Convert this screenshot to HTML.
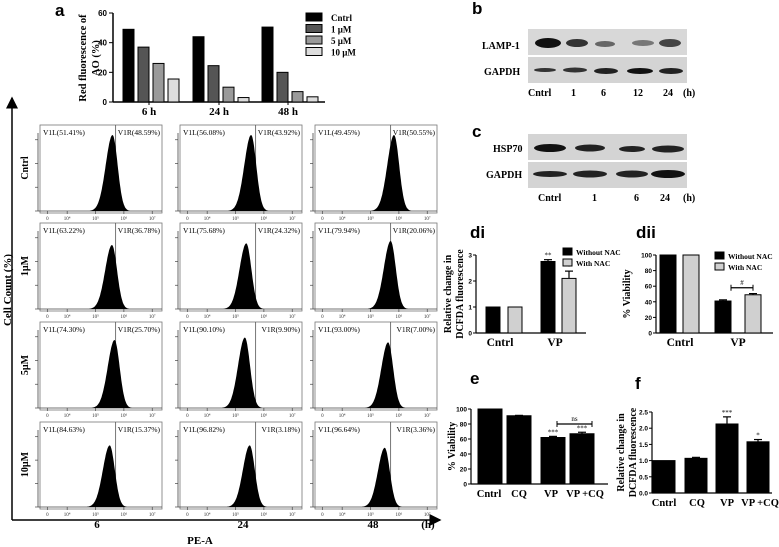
<!DOCTYPE html>
<html><head><meta charset="utf-8"><style>
body{margin:0;background:#fff}
svg{display:block;font-family:"Liberation Serif",serif;font-weight:bold}
.ps{font-family:"Liberation Sans",sans-serif;font-weight:bold}
</style></head><body>
<svg id="fig" width="779" height="547" viewBox="0 0 779 547">
<defs><marker id="arr" markerWidth="8" markerHeight="8" refX="7" refY="4" orient="auto"><path d="M0,0L8,4L0,8Z" fill="#000"/></marker></defs>
<text class="ps" x="55" y="16" font-size="17">a</text>
<text class="ps" x="472" y="14" font-size="17">b</text>
<text class="ps" x="472" y="137" font-size="17">c</text>
<text class="ps" x="470" y="238" font-size="17">di</text>
<text class="ps" x="636" y="238" font-size="17">dii</text>
<text class="ps" x="470" y="384" font-size="17">e</text>
<text class="ps" x="635" y="389" font-size="17">f</text>

<g>
<rect x="528" y="29" width="159" height="26" fill="#d8d8d8"/>
<rect x="528" y="57" width="159" height="26" fill="#d4d4d4"/>
<ellipse cx="548" cy="43" rx="13" ry="5" fill="#111"/><ellipse cx="577" cy="43" rx="11" ry="4" fill="#333"/>
<ellipse cx="605" cy="44" rx="10" ry="3" fill="#666"/><ellipse cx="643" cy="43" rx="11" ry="3" fill="#777"/><ellipse cx="670" cy="43" rx="11" ry="4" fill="#444"/>
<ellipse cx="545" cy="70" rx="11" ry="2" fill="#333"/><ellipse cx="575" cy="70" rx="12" ry="2.5" fill="#333"/><ellipse cx="606" cy="71" rx="12" ry="3" fill="#222"/><ellipse cx="640" cy="71" rx="13" ry="3" fill="#111"/><ellipse cx="671" cy="71" rx="12" ry="3" fill="#222"/>
<text x="482" y="49" font-size="10">LAMP-1</text><text x="484" y="75" font-size="10">GAPDH</text>
<text y="96" font-size="10"><tspan x="528">Cntrl</tspan><tspan x="571">1</tspan><tspan x="601">6</tspan><tspan x="633">12</tspan><tspan x="663">24</tspan><tspan x="683">(h)</tspan></text>
</g>
<g>
<rect x="528" y="134" width="159" height="26" fill="#d4d4d4"/>
<rect x="528" y="162" width="159" height="26" fill="#d4d4d4"/>
<ellipse cx="550" cy="148" rx="16" ry="4" fill="#111"/><ellipse cx="590" cy="148" rx="15" ry="3.5" fill="#222"/><ellipse cx="632" cy="149" rx="13" ry="3" fill="#222"/><ellipse cx="668" cy="149" rx="16" ry="3.5" fill="#222"/>
<ellipse cx="550" cy="174" rx="17" ry="3" fill="#222"/><ellipse cx="590" cy="174" rx="17" ry="3.5" fill="#222"/><ellipse cx="632" cy="174" rx="16" ry="3.5" fill="#222"/><ellipse cx="668" cy="174" rx="17" ry="4" fill="#111"/>
<text x="493" y="152" font-size="10">HSP70</text><text x="486" y="178" font-size="10">GAPDH</text>
<text y="201" font-size="10"><tspan x="538">Cntrl</tspan><tspan x="592">1</tspan><tspan x="634">6</tspan><tspan x="660">24</tspan><tspan x="683">(h)</tspan></text>
</g>

<line x1="12" y1="520" x2="12" y2="98" stroke="#000" stroke-width="1.5" marker-end="url(#arr)"/>
<line x1="12" y1="520" x2="440" y2="520" stroke="#000" stroke-width="1.5" marker-end="url(#arr)"/>
<text transform="translate(11,290) rotate(-90)" text-anchor="middle" font-size="11">Cell Count (%)</text>
<text x="200" y="544" text-anchor="middle" font-size="11">PE-A</text>
<g id="flow"></g>
<g id="chartA"></g>
<g id="bars"></g>
</svg>
<script>
const NS='http://www.w3.org/2000/svg';
function mk(p,t,a,txt){const e=document.createElementNS(NS,t);for(const k in a)e.setAttribute(k,a[k]);if(txt!==undefined)e.textContent=txt;p.appendChild(e);return e;}
const aGroups=['6 h','24 h','48 h'];
const aSeries=['Cntrl','1 \u00b5M','5 \u00b5M','10 \u00b5M'];
const aColors=['#000','#555','#9a9a9a','#ddd'];
const aCntrl=[49,44,50.5];
const a1uM=[37,24.5,20];
const a5uM=[26,10,7];
const a10uM=[15.5,3,3.5];
const aTicks=[0,20,40,60];
const flowRows=['Cntrl','1\u00b5M','5\u00b5M','10\u00b5M'];
const flowCols=['6','24','48'];
const flowV1L=[['51.41','56.08','49.45'],['63.22','75.68','79.94'],['74.30','90.10','93.00'],['84.63','96.82','96.64']];
const flowV1R=[['48.59','43.92','50.55'],['36.78','24.32','20.06'],['25.70','9.90','7.00'],['15.37','3.18','3.36']];
const flowPeakLog=[[5.6,5.55,5.83],[5.58,5.38,5.71],[5.67,5.33,5.62],[5.5,5.5,5.5]];
const flowPeakH=[[0.95,0.95,0.95],[0.8,0.82,0.85],[0.85,0.88,0.82],[0.78,0.78,0.75]];
const flowTickLabels=['0','10\u2074','10\u2075','10\u2076','10\u2077'];
const flowTickLog=[3.3,4,5,6,7];
const diCats=['Cntrl','VP'];
const diWithout=[1,2.75];const diWith=[1,2.1];const diWithErr=[0,0.28];const diWithoutErr=[0,0.07];
const diTicks=[0,1,2,3];
const diiWithout=[100,41];const diiWith=[100,49];const diiTicks=[0,20,40,60,80,100];
const eCats=['Cntrl','CQ','VP','VP +CQ'];const eVals=[100,91,62,67];const eErr=[0,0.5,1.5,2];const eTicks=[0,20,40,60,80,100];
const fCats=['Cntrl','CQ','VP','VP +CQ'];const fVals=[1.0,1.07,2.13,1.58];const fErr=[0,0.03,0.22,0.07];const fTicks=[0,0.5,1.0,1.5,2.0,2.5];

(function(){
 const g=document.getElementById('chartA');
 const y0=102,yTop=13,x0=113,x1=325;
 const ys=v=>y0-(v/60)*(y0-yTop);
 const series=[aCntrl,a1uM,a5uM,a10uM];
 const gStart=[123,193,262];
 mk(g,'line',{x1:x0,y1:yTop,x2:x0,y2:y0,stroke:'#000','stroke-width':1.5});
 mk(g,'line',{x1:x0,y1:y0,x2:x1,y2:y0,stroke:'#000','stroke-width':1.5});
 aTicks.forEach(t=>{mk(g,'line',{x1:x0-4,y1:ys(t),x2:x0,y2:ys(t),stroke:'#000'});const tx=mk(g,'text',{x:x0-6,y:ys(t)+3,'font-size':8,'text-anchor':'end',class:'ps'},t);});
 aGroups.forEach((gn,gi)=>{
  series.forEach((s,si)=>{const b=mk(g,'rect',{x:gStart[gi]+si*15,y:ys(s[gi]),width:11,height:y0-ys(s[gi]),fill:aColors[si],stroke:'#000','stroke-width':1});
   });
  const c=gStart[gi]+26;mk(g,'line',{x1:c,y1:y0,x2:c,y2:y0+3,stroke:'#000'});
  const t=mk(g,'text',{x:c,y:115,'font-size':11,'text-anchor':'middle'},gn);
 });
 const yl=mk(g,'text',{transform:'translate(86,58) rotate(-90)','text-anchor':'middle','font-size':10.5});
 mk(yl,'tspan',{x:0,dy:0},'Red  fluorescence of');mk(yl,'tspan',{x:0,dy:13},'AO (%)');
 
 aSeries.forEach((s,i)=>{const yy=13+i*11.5;
  const r=mk(g,'rect',{x:306,y:yy,width:16,height:8,fill:aColors[i],stroke:'#000'});
  const t=mk(g,'text',{x:331,y:yy+8,'font-size':9},s);});
})();

(function(){
 const g=document.getElementById('flow');
 const colX=[[40,162],[180,302],[315,437]];
 const rowY=[[125,211],[223,309],[322,408],[422,507]];
 const fx=(c,l)=>{const [a,b]=colX[c];const f=0.06+(l-3.3)/(7-3.3)*0.86;return a+f*(b-a);};
 rowY.forEach((ry,r)=>{
  const lab=mk(g,'text',{transform:`translate(28,${(ry[0]+ry[1])/2}) rotate(-90)`,'text-anchor':'middle','font-size':10},flowRows[r]);
  
  colX.forEach((cx,c)=>{
   const pg=mk(g,'g',{});
   mk(pg,'rect',{x:cx[0],y:ry[0],width:cx[1]-cx[0],height:ry[1]-ry[0]+2,fill:'none',stroke:'#777','stroke-width':0.8});
   mk(pg,'line',{x1:cx[0]-2,y1:ry[0]+8,x2:cx[0]-2,y2:ry[1],stroke:'#444','stroke-width':0.8});
   mk(pg,'line',{x1:cx[0]-2,y1:ry[1],x2:cx[1],y2:ry[1],stroke:'#444','stroke-width':0.8});
   for(let k=0;k<4;k++){const yy=ry[1]-k*(ry[1]-ry[0]-10)/3.2;mk(pg,'line',{x1:cx[0]-5,y1:yy,x2:cx[0]-2,y2:yy,stroke:'#444','stroke-width':0.7});}
   flowTickLog.forEach((l,i)=>{const xx=fx(c,l);mk(pg,'line',{x1:xx,y1:ry[1],x2:xx,y2:ry[1]+3,stroke:'#444','stroke-width':0.7});
     mk(pg,'text',{x:xx,y:ry[1]+9,'font-size':5,'text-anchor':'middle',fill:'#333','font-weight':'normal'},flowTickLabels[i]);});
   const gate=cx[0]+0.62*(cx[1]-cx[0]);
   mk(pg,'line',{x1:gate,y1:ry[0],x2:gate,y2:ry[1],stroke:'#555','stroke-width':0.8});
   mk(pg,'text',{x:cx[0]+3,y:ry[0]+10,'font-size':7.5,'font-weight':'normal'},'V1L('+flowV1L[r][c]+'%)');
   mk(pg,'text',{x:cx[1]-2,y:ry[0]+10,'font-size':7.5,'font-weight':'normal','text-anchor':'end'},'V1R('+flowV1R[r][c]+'%)');
   const pk=flowPeakLog[r][c],h=flowPeakH[r][c]*(ry[1]-ry[0]-6);
   let d=`M${fx(c,pk-0.8)},${ry[1]}`;
   for(let l=pk-0.8;l<=pk+0.6;l+=0.02){const s=l<pk?0.24:0.18;const v=Math.exp(-((l-pk)**2)/(2*s*s));d+=`L${fx(c,l).toFixed(1)},${(ry[1]-v*h).toFixed(1)}`;}
   d+=`L${fx(c,pk+0.6)},${ry[1]}Z`;
   const hp=mk(pg,'path',{d:d,fill:'#000'});
  });
 });
 const cxs=[97,243,373];
 flowCols.forEach((c,i)=>{const t=mk(g,'text',{x:cxs[i],y:528,'font-size':11,'text-anchor':'middle'},c);});
 const hh=mk(g,'text',{x:428,y:528,'font-size':11,'text-anchor':'middle'},'(h)');
})();

function barChart(o){
 const g=mk(document.getElementById('bars'),'g',{});
 
 const ys=v=>o.y0-(v/o.max)*(o.y0-o.yTop);
 mk(g,'line',{x1:o.x0,y1:ys(o.ticks[o.ticks.length-1]),x2:o.x0,y2:o.y0,stroke:'#000','stroke-width':1.2});
 mk(g,'line',{x1:o.x0,y1:o.y0,x2:o.x1,y2:o.y0,stroke:'#000','stroke-width':1.2});
 o.ticks.forEach(t=>{mk(g,'line',{x1:o.x0-3,y1:ys(t),x2:o.x0,y2:ys(t),stroke:'#000'});
  const tx=mk(g,'text',{x:o.x0-4,y:ys(t)+2.5,'font-size':6.5,'text-anchor':'end',class:'ps'},o.fmt?o.fmt(t):t);});
 o.series.forEach((s,si)=>{s.vals.forEach((v,i)=>{const x=o.bx[i][si];
  const b=mk(g,'rect',{x:x,y:ys(v),width:o.bw,height:o.y0-ys(v),fill:s.color,stroke:'#000','stroke-width':1});
  
  const e=s.err?s.err[i]:0;if(e>0){const cx=x+o.bw/2;mk(g,'line',{x1:cx,y1:ys(v),x2:cx,y2:ys(v+e),stroke:'#000','stroke-width':1.2});mk(g,'line',{x1:cx-4,y1:ys(v+e),x2:cx+4,y2:ys(v+e),stroke:'#000','stroke-width':1.2});}
  if(s.star&&s.star[i]){mk(g,'text',{x:x+o.bw/2,y:ys(v+e)-2,'font-size':7,'text-anchor':'middle','font-weight':'normal'},s.star[i]);}
 });});
 o.cats.forEach((c,i)=>{const t=mk(g,'text',{x:o.lx[i],y:o.y0+13,'font-size':o.lfs||11.5,'text-anchor':'middle'},c);});
 const yl=mk(g,'text',{transform:`translate(${o.ylx},${(o.y0+o.yTop)/2}) rotate(-90)`,'text-anchor':'middle','font-size':10});
 o.ytitle.forEach((l,i)=>mk(yl,'tspan',{x:0,dy:i?12:0},l));
 
 if(o.legend){o.legend.forEach((l,i)=>{const yy=o.legY+i*11;
  const r=mk(g,'rect',{x:o.legX,y:yy,width:9,height:7,fill:l[1],stroke:'#000'});
  const t=mk(g,'text',{x:o.legX+13,y:yy+7,'font-size':7.5},l[0]);});}
 if(o.bracket){const [xa,xb,v,lab]=o.bracket;const yy=ys(v);mk(g,'line',{x1:xa,y1:yy,x2:xb,y2:yy,stroke:'#000','stroke-width':1.2});
  mk(g,'line',{x1:xa,y1:yy-3,x2:xa,y2:yy+3,stroke:'#000'});mk(g,'line',{x1:xb,y1:yy-3,x2:xb,y2:yy+3,stroke:'#000'});
  mk(g,'text',{x:(xa+xb)/2,y:yy-3,'font-size':7,'text-anchor':'middle','font-weight':'normal'},lab);}
}
barChart({name:'chart-di',x0:476,x1:586,y0:333,yTop:255,max:3,ticks:diTicks,cats:diCats,bw:14,
 bx:[[486,508],[541,562]],lx:[500,555],ylx:451,ytitle:['Relative change in','DCFDA fluorescence'],
 series:[{vals:diWithout,err:diWithoutErr,color:'#000',star:['','**']},{vals:diWith,err:diWithErr,color:'#d0d0d0',star:['','*']}],
 legend:[['Without NAC','#000'],['With NAC','#d0d0d0']],legX:563,legY:248});
barChart({name:'chart-dii',x0:656,x1:773,y0:333,yTop:255,max:100,ticks:diiTicks,cats:diCats,bw:16,
 bx:[[660,683],[715,745]],lx:[680,738],ylx:630,ytitle:['% Viability'],
 series:[{vals:diiWithout,err:[0,1.5],color:'#000'},{vals:diiWith,err:[0,1.5],color:'#d0d0d0'}],
 legend:[['Without NAC','#000'],['With NAC','#d0d0d0']],legX:715,legY:252,bracket:[731,753,58,'#']});
barChart({name:'chart-e',x0:471,x1:608,y0:484,yTop:409,max:100,ticks:eTicks,cats:eCats,bw:24,lfs:10.5,
 bx:[[478],[507],[541],[570]],lx:[489,519,551,585],ylx:455,ytitle:['% Viability'],
 series:[{vals:eVals,err:eErr,color:'#000',star:['','','***','***']}],bracket:[557,592,80,'ns']});
barChart({name:'chart-f',x0:652,x1:772,y0:493,yTop:412,max:2.5,ticks:fTicks,cats:fCats,bw:22,fmt:t=>t.toFixed(1),lfs:10.5,
 bx:[[653],[685],[716],[747]],lx:[664,697,727,760],ylx:624,ytitle:['Relative change in','DCFDA fluorescence'],
 series:[{vals:fVals,err:fErr,color:'#000',star:['','','***','*']}]});
</script>
</body></html>
